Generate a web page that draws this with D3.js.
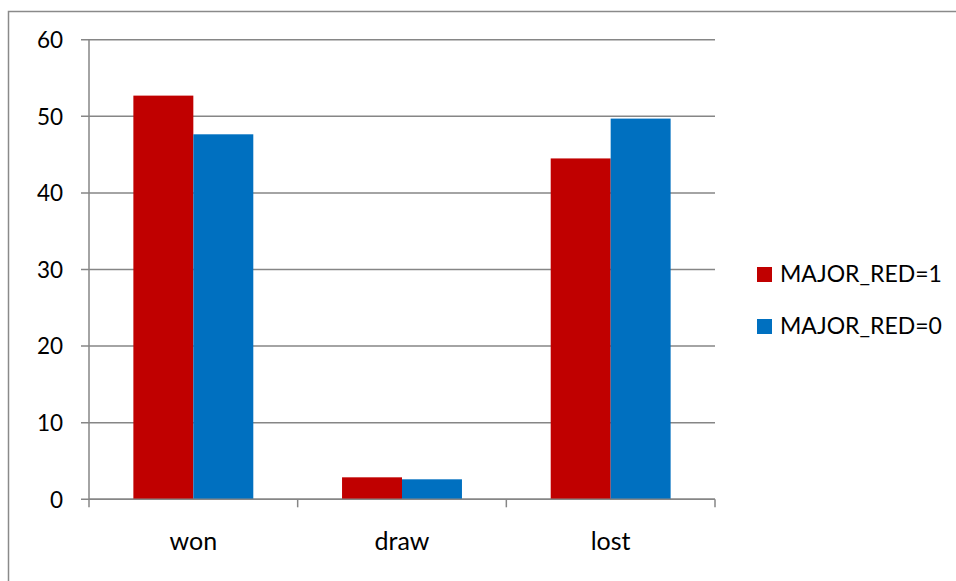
<!DOCTYPE html>
<html>
<head>
<script src="https://d3js.org/d3.v7.min.js"></script>
<style>
  body {margin: 0; background: #fff;}
  text {font-family: Lato, "Open Sans", sans-serif; fill: #000;}
  .axis .domain {display: none;}
</style>
</head>
<body>
<svg id="chart" width="956" height="581"></svg>
<script>
// data
var categories = ["won", "draw", "lost"];
var seriesNames = ["MAJOR_RED=1", "MAJOR_RED=0"];
var major1 = [52.7, 2.87, 44.5];
var major0 = [47.65, 2.61, 49.7];
var yTicks = [0, 10, 20, 30, 40, 50, 60];
var colors = ["#C00000", "#0070C0"];

var seriesValues = [major1, major0];
var data = categories.map(function(c, i) {
    return {cat: c, values: seriesNames.map(function(k, j) { return {key: k, value: seriesValues[j][i]}; })};
});

var svg = d3.select("#chart"),
    margin = {top: 39.7, left: 89, right: 715, bottom: 499.3};

// outer chart frame (cut off at right and bottom like the original)
svg.append("rect")
    .attr("x", 8.5).attr("y", 11.5)
    .attr("width", 1000).attr("height", 1000)
    .attr("fill", "none")
    .attr("stroke", "#8a8a8a")
    .attr("stroke-width", 1.5);

var x0 = d3.scaleBand()
    .domain(categories)
    .range([margin.left, margin.right])
    .paddingInner(0);

var x1 = d3.scaleBand()
    .domain(seriesNames)
    .range([0, x0.bandwidth()])
    .paddingInner(0)
    .paddingOuter(0.74);

var y = d3.scaleLinear()
    .domain([0, 60])
    .range([margin.bottom, margin.top]);

var color = d3.scaleOrdinal().domain(seriesNames).range(colors);

// gridlines
svg.append("g")
    .selectAll("line")
    .data(yTicks)
    .enter().append("line")
    .attr("x1", margin.left - 8)
    .attr("x2", margin.right)
    .attr("y1", function(d) { return y(d); })
    .attr("y2", function(d) { return y(d); })
    .attr("stroke", "#868686")
    .attr("stroke-width", 1.5);

// y axis line
svg.append("line")
    .attr("x1", margin.left).attr("x2", margin.left)
    .attr("y1", margin.top).attr("y2", margin.bottom)
    .attr("stroke", "#868686")
    .attr("stroke-width", 1.5);

// y labels
svg.append("g")
    .attr("class", "axis")
    .attr("transform", "translate(" + (margin.left - 26) + ",0)")
    .call(d3.axisLeft(y).tickValues(yTicks).tickSize(0).tickPadding(0))
    .selectAll("text")
    .attr("font-size", "22.5px")
    .attr("dy", "0.35em")
    .style("font-family", "Lato, sans-serif")
    .attr("fill", "#000");

// bars
svg.append("g")
    .selectAll("g")
    .data(data)
    .enter().append("g")
    .attr("transform", function(d) { return "translate(" + x0(d.cat) + ",0)"; })
    .selectAll("rect")
    .data(function(d) { return d.values; })
    .enter().append("rect")
    .attr("x", function(d) { return x1(d.key); })
    .attr("y", function(d) { return y(d.value); })
    .attr("width", x1.bandwidth())
    .attr("height", function(d) { return y(0) - y(d.value); })
    .attr("fill", function(d) { return color(d.key); });

// x axis baseline and ticks
svg.append("line")
    .attr("x1", margin.left).attr("x2", margin.right)
    .attr("y1", y(0)).attr("y2", y(0))
    .attr("stroke", "#868686")
    .attr("stroke-width", 1.5);

var boundaries = categories.map(function(c) { return x0(c); }).concat([margin.right]);
svg.append("g")
    .selectAll("line")
    .data(boundaries)
    .enter().append("line")
    .attr("x1", function(d) { return d; })
    .attr("x2", function(d) { return d; })
    .attr("y1", y(0))
    .attr("y2", y(0) + 8)
    .attr("stroke", "#868686")
    .attr("stroke-width", 1.5);

svg.append("g")
    .selectAll("text")
    .data(categories)
    .enter().append("text")
    .attr("x", function(d) { return x0(d) + x0.bandwidth() / 2; })
    .attr("y", 550)
    .attr("text-anchor", "middle")
    .attr("font-size", "25px")
    .text(function(d) { return d; });

// legend
var legend = svg.append("g")
    .selectAll("g")
    .data(seriesNames)
    .enter().append("g")
    .attr("transform", function(d, i) { return "translate(757," + (267 + i * 52) + ")"; });

legend.append("rect")
    .attr("width", 15)
    .attr("height", 15)
    .attr("fill", color);

legend.append("text")
    .attr("x", 23)
    .attr("y", 15)
    .attr("font-size", "23px")
    .text(function(d) { return d; });
</script>
</body>
</html>
